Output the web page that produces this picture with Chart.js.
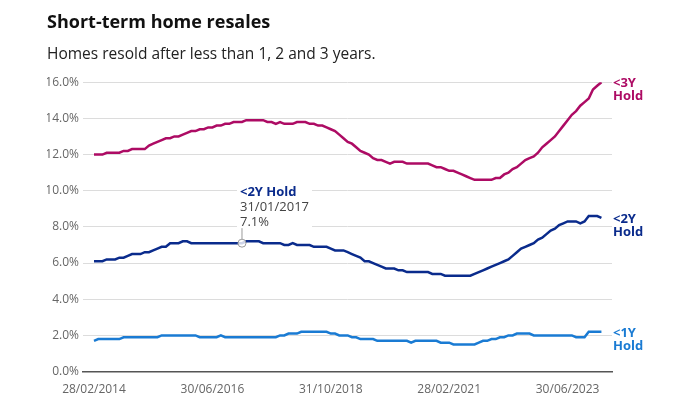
<!DOCTYPE html>
<html>
<head>
<meta charset="utf-8">
<script src="https://cdn.jsdelivr.net/npm/chart.js@4.4.1/dist/chart.umd.min.js"></script>
<style>
    html, body { margin: 0; padding: 0; background: #fff; }
    #wrap { width: 680px; height: 408px; }
</style>
</head>
<body>
<div id="wrap"><canvas id="chartResales"></canvas></div>
<script>
// months since 28/02/2014 (0) up to 29/02/2024 (120)
const xTickMonths = [0, 28, 56, 84, 112];
const xTickLabels = ['28/02/2014', '30/06/2016', '31/10/2018', '28/02/2021', '30/06/2023'];

// <3Y hold (%)
const threeYear = [
    12.0, 12.0, 12.0, 12.1, 12.1, 12.1, 12.1, 12.2, 12.2, 12.3,
    12.3, 12.3, 12.3, 12.5, 12.6, 12.7, 12.8, 12.9, 12.9, 13.0,
    13.0, 13.1, 13.2, 13.3, 13.3, 13.4, 13.4, 13.5, 13.5, 13.6,
    13.6, 13.7, 13.7, 13.8, 13.8, 13.8, 13.9, 13.9, 13.9, 13.9,
    13.9, 13.8, 13.8, 13.7, 13.8, 13.7, 13.7, 13.7, 13.8, 13.8,
    13.8, 13.7, 13.7, 13.6, 13.6, 13.5, 13.4, 13.3, 13.1, 12.9,
    12.7, 12.6, 12.4, 12.2, 12.1, 12.0, 11.8, 11.7, 11.7, 11.6,
    11.5, 11.6, 11.6, 11.6, 11.5, 11.5, 11.5, 11.5, 11.5, 11.5,
    11.4, 11.3, 11.3, 11.2, 11.1, 11.1, 11.0, 10.9, 10.8, 10.7,
    10.6, 10.6, 10.6, 10.6, 10.6, 10.7, 10.7, 10.9, 11.0, 11.2,
    11.3, 11.5, 11.7, 11.8, 11.9, 12.1, 12.4, 12.6, 12.8, 13.0,
    13.3, 13.6, 13.9, 14.2, 14.4, 14.7, 14.9, 15.1, 15.6, 15.8,
    16.0
];

// <2Y hold (%)
const twoYear = [
    6.1, 6.1, 6.1, 6.2, 6.2, 6.2, 6.3, 6.3, 6.4, 6.5,
    6.5, 6.5, 6.6, 6.6, 6.7, 6.8, 6.9, 6.9, 7.1, 7.1,
    7.1, 7.2, 7.2, 7.1, 7.1, 7.1, 7.1, 7.1, 7.1, 7.1,
    7.1, 7.1, 7.1, 7.1, 7.1, 7.1, 7.2, 7.2, 7.2, 7.2,
    7.1, 7.1, 7.1, 7.1, 7.1, 7.0, 7.0, 7.1, 7.0, 7.0,
    7.0, 7.0, 6.9, 6.9, 6.9, 6.9, 6.8, 6.7, 6.7, 6.7,
    6.6, 6.5, 6.4, 6.3, 6.1, 6.1, 6.0, 5.9, 5.8, 5.7,
    5.7, 5.7, 5.6, 5.6, 5.5, 5.5, 5.5, 5.5, 5.5, 5.5,
    5.4, 5.4, 5.4, 5.3, 5.3, 5.3, 5.3, 5.3, 5.3, 5.3,
    5.4, 5.5, 5.6, 5.7, 5.8, 5.9, 6.0, 6.1, 6.2, 6.4,
    6.6, 6.8, 6.9, 7.0, 7.1, 7.3, 7.4, 7.6, 7.8, 7.9,
    8.1, 8.2, 8.3, 8.3, 8.3, 8.2, 8.3, 8.6, 8.6, 8.6,
    8.5
];

// <1Y hold (%)
const oneYear = [
    1.7, 1.8, 1.8, 1.8, 1.8, 1.8, 1.8, 1.9, 1.9, 1.9,
    1.9, 1.9, 1.9, 1.9, 1.9, 1.9, 2.0, 2.0, 2.0, 2.0,
    2.0, 2.0, 2.0, 2.0, 2.0, 1.9, 1.9, 1.9, 1.9, 1.9,
    2.0, 1.9, 1.9, 1.9, 1.9, 1.9, 1.9, 1.9, 1.9, 1.9,
    1.9, 1.9, 1.9, 1.9, 2.0, 2.0, 2.1, 2.1, 2.1, 2.2,
    2.2, 2.2, 2.2, 2.2, 2.2, 2.2, 2.1, 2.1, 2.0, 2.0,
    2.0, 1.9, 1.9, 1.8, 1.8, 1.8, 1.8, 1.7, 1.7, 1.7,
    1.7, 1.7, 1.7, 1.7, 1.7, 1.6, 1.7, 1.7, 1.7, 1.7,
    1.7, 1.7, 1.6, 1.6, 1.6, 1.5, 1.5, 1.5, 1.5, 1.5,
    1.5, 1.6, 1.7, 1.7, 1.8, 1.8, 1.9, 1.9, 2.0, 2.0,
    2.1, 2.1, 2.1, 2.1, 2.0, 2.0, 2.0, 2.0, 2.0, 2.0,
    2.0, 2.0, 2.0, 2.0, 1.9, 1.9, 1.9, 2.2, 2.2, 2.2,
    2.2
];

const seriesNames = ['<3Y', '<2Y', '<1Y'];
const seriesColors = ['#ad0b64', '#0a2b8c', '#1a7bd3'];

// highlighted point
const annotSeries = 1;
const annotMonth = 35;
const annotDate = '31/01/2017';

const FONT = '"Open Sans", sans-serif';

const toPoints = arr => arr.map((v, i) => ({ x: i, y: v }));

// "<3Y / Hold" at the end of each line
const endLabels = {
    id: 'endLabels',
    afterDatasetsDraw(chart) {
        const ctx = chart.ctx;
        ctx.save();
        ctx.font = `bold 13px ${FONT}`;
        ctx.textBaseline = 'middle';
        ctx.textAlign = 'left';
        chart.data.datasets.forEach((ds, i) => {
            const pts = chart.getDatasetMeta(i).data;
            const last = pts[pts.length - 1];
            const x = chart.chartArea.right + 1;
            ctx.fillStyle = ds.borderColor;
            ctx.fillText(seriesNames[i], x, last.y + 1.5);
            ctx.fillText('Hold', x, last.y + 14.5);
        });
        ctx.restore();
    }
};

// tooltip-like callout on the <2Y line
const callout = {
    id: 'callout',
    beforeDatasetsDraw(chart) {
        const ctx = chart.ctx;
        const pt = chart.getDatasetMeta(annotSeries).data[annotMonth];
        const val = chart.data.datasets[annotSeries].data[annotMonth].y;
        const x = pt.x - 2;
        ctx.save();
        ctx.font = `13px ${FONT}`;
        const w = ctx.measureText(annotDate).width;
        ctx.fillStyle = '#fff';
        ctx.fillRect(x - 3, pt.y - 59, w + 6, 44);
        ctx.textBaseline = 'middle';
        ctx.textAlign = 'left';
        ctx.fillStyle = seriesColors[annotSeries];
        ctx.font = `bold 13px ${FONT}`;
        ctx.fillText(seriesNames[annotSeries] + ' Hold', x, pt.y - 50.5);
        ctx.fillStyle = '#444';
        ctx.font = `13px ${FONT}`;
        ctx.fillText(annotDate, x, pt.y - 35.5);
        ctx.fillText(val.toFixed(1) + '%', x, pt.y - 20.5);
        ctx.restore();
    },
    afterDatasetsDraw(chart) {
        const ctx = chart.ctx;
        const pt = chart.getDatasetMeta(annotSeries).data[annotMonth];
        ctx.save();
        ctx.strokeStyle = '#9a9a9a';
        ctx.lineWidth = 1;
        ctx.beginPath();
        ctx.moveTo(pt.x, pt.y - 15);
        ctx.lineTo(pt.x, pt.y - 4);
        ctx.stroke();
        ctx.beginPath();
        ctx.arc(pt.x, pt.y, 4, 0, Math.PI * 2);
        ctx.fillStyle = 'rgba(255,255,255,0.8)';
        ctx.fill();
        ctx.stroke();
        ctx.restore();
    }
};

new Chart(document.getElementById('chartResales').getContext('2d'), {
    type: 'line',
    data: {
        datasets: [threeYear, twoYear, oneYear].map((arr, i) => ({
            label: seriesNames[i] + ' Hold',
            data: toPoints(arr),
            borderColor: seriesColors[i],
            backgroundColor: seriesColors[i],
            borderWidth: 2.5,
            pointRadius: 0,
            tension: 0,
            fill: false
        }))
    },
    options: {
        responsive: true,
        maintainAspectRatio: false,
        animation: false,
        events: [],
        layout: {
            padding: { left: 47, right: 68, top: 0, bottom: 8 }
        },
        plugins: {
            legend: { display: false },
            tooltip: { enabled: false },
            title: {
                display: true,
                align: 'start',
                text: 'Short-term home resales',
                color: '#111',
                font: { family: FONT, size: 18, weight: 'bold' },
                padding: { top: 12, bottom: 6 }
            },
            subtitle: {
                display: true,
                align: 'start',
                text: 'Homes resold after less than 1, 2 and 3 years.',
                color: '#222',
                font: { family: FONT, size: 15.5 },
                padding: { top: 6, bottom: 18 }
            }
        },
        scales: {
            x: {
                type: 'linear',
                min: -2.6,
                max: 122.5,
                afterBuildTicks: axis => {
                    axis.ticks = xTickMonths.map(v => ({ value: v }));
                },
                grid: { display: false },
                border: { display: true, color: '#555', width: 1.5 },
                ticks: {
                    autoSkip: false,
                    maxRotation: 0,
                    padding: 3,
                    color: '#666',
                    font: { family: FONT, size: 12 },
                    callback: (value, index) => xTickLabels[index]
                }
            },
            y: {
                min: 0,
                max: 16,
                afterFit: axis => { axis.width = 36; },
                grid: {
                    color: '#dcdcdc',
                    drawTicks: false
                },
                border: { display: false },
                ticks: {
                    stepSize: 2,
                    padding: 4,
                    color: '#666',
                    font: { family: FONT, size: 12 },
                    callback: value => value.toFixed(1) + '%'
                }
            }
        }
    },
    plugins: [endLabels, callout]
});
</script>
</body>
</html>
